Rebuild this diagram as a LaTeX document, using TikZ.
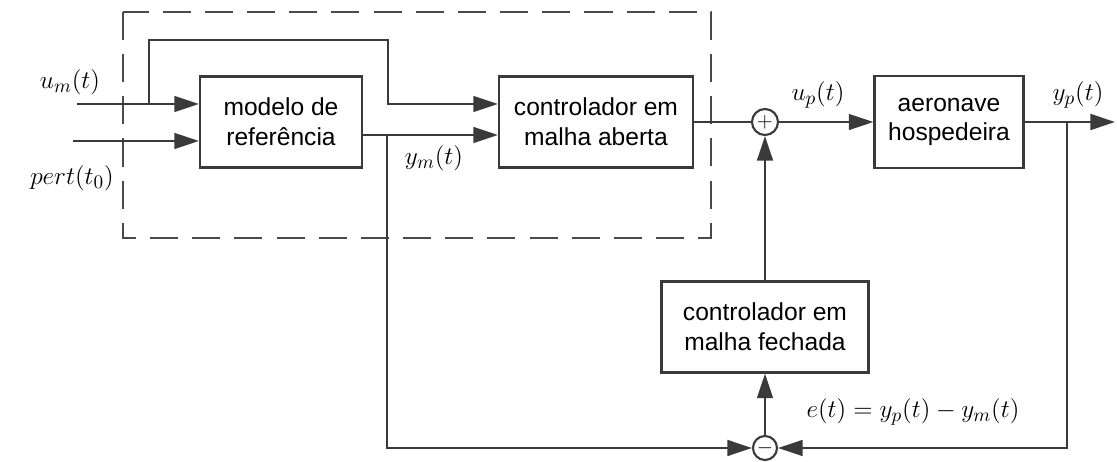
\documentclass[tikz,border=0pt]{standalone}
\usepackage{fontspec}
\setsansfont{Liberation Sans}
\usepackage{tikz}
\usetikzlibrary{calc,positioning,arrows.meta}
\definecolor{linegray}{HTML}{3A3A3A}
\definecolor{dashgray}{HTML}{4A4A4A}

\begin{document}
\begin{tikzpicture}[
  x=0.02cm, y=-0.02cm,
  blockbox/.style={
    rectangle, draw=linegray, line width=1.3pt,
    inner sep=2pt, align=center,
    font=\sffamily\fontsize{14}{17}\selectfont,
  },
  sumnode/.style={
    circle, draw=linegray, line width=1.2pt,
    minimum size=0.52cm, inner sep=0pt,
    font=\fontsize{13}{13}\selectfont,
  },
  sig/.style={font=\fontsize{15}{18}\selectfont},
  wire/.style={line width=1.3pt, linegray},
  arr/.style={wire, -{Triangle[length=14pt,width=9pt]}},
  dashbox/.style={line width=1.3pt, dashgray, dash pattern=on 16pt off 8pt},
]
\useasboundingbox (0,0) rectangle (1117,462);

% Open loop region
\draw[dashbox] (123,12) rectangle (711,238);

% Reference model
\node[blockbox, minimum width=3.24cm, minimum height=1.82cm] (ref) at (281,122) {modelo de\\referência};

% Open loop controller
\node[blockbox, minimum width=3.88cm, minimum height=1.82cm] (ola) at (596,122) {controlador em\\malha aberta};

% Summing junction
\node[sumnode] (sum) at (765,122) {$+$};

% Host aircraft
\node[blockbox, minimum width=2.98cm, minimum height=1.84cm] (plant) at (949,122) {aeronave\\hospedeira};

% Closed loop controller
\node[blockbox, minimum width=4.14cm, minimum height=1.82cm] (clc) at (765,327) {controlador em\\malha fechada};

% Error junction
\node[sumnode, minimum size=0.48cm] (diff) at (765,448) {$-$};

% Free ends and branch points
\coordinate (um) at (77,104);
\coordinate (pert) at (73,141);
\coordinate (umb) at (149,104);
\coordinate (top) at (388,40);
\coordinate (ymy) at (0,135);
\coordinate (ymb) at (387,135);
\coordinate (out) at (1115,122);
\coordinate (ypb) at (1067,122);

% Inputs
\draw[arr] (um) -- (ref.west |- um);
\draw[arr] (pert) -- (ref.west |- pert);
\draw[arr] (umb) |- (top) |- (ola.west |- um);
\draw[arr] (ref.east |- ymy) -- (ola.west |- ymy);

% Forward path
\draw[wire] (ola) -- (sum);
\draw[arr] (sum) -- (plant);
\draw[arr] (plant) -- (out);

% Feedback path
\draw[arr] (ymb) |- (diff);
\draw[arr] (ypb) |- (diff);
\draw[arr] (diff) -- (clc);
\draw[arr] (clc) -- (sum);

% Signal labels
\node[sig] (lum) at (70,82) {$u_m(t)$};
\node[sig] (lpert) at (72,178) {$pert(t_0)$};
\node[sig] (lym) at (434,158) {$y_m(t)$};
\node[sig] (lup) at (818,95) {$u_p(t)$};
\node[sig] (lyp) at (1078,95) {$y_p(t)$};
\node[sig] (le) at (913,412) {$e(t) = y_p(t) - y_m(t)$};

\end{tikzpicture}
\end{document}
